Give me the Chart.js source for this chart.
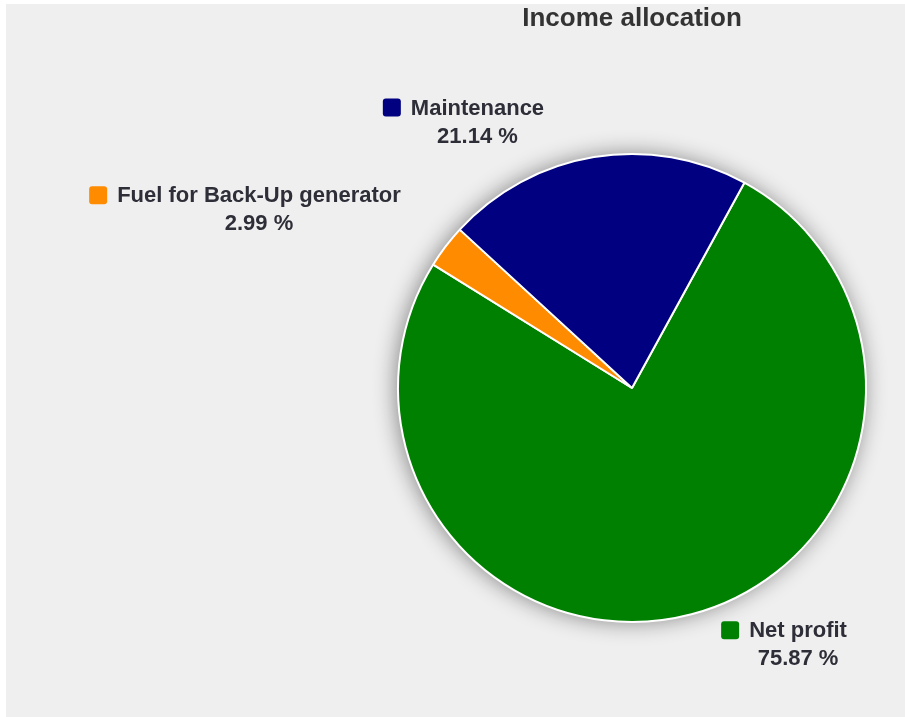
<!DOCTYPE html>
<html>
<head>
<meta charset="utf-8">
<script src="https://cdn.jsdelivr.net/npm/chart.js@4/dist/chart.umd.min.js"></script>
<style>
  html, body { margin: 0; padding: 0; background: #ffffff; }
  #wrap {
    position: absolute; left: 6px; top: 4px; width: 899px; height: 713px;
    background: #efefef;
  }
  #chart { position: absolute; left: -6px; top: -4px; }
</style>
</head>
<body>
<div id="wrap"><canvas id="chart" width="905" height="717"></canvas></div>
<script>
// ============================================
// DATA
// ============================================
const categories = ['Net profit', 'Fuel for Back-Up generator', 'Maintenance'];
const shares = [75.87, 2.99, 21.14];
const sliceColors = ['#008000', '#ff8c00', '#000080'];
const chartTitle = 'Income allocation';

// label placement: nudge from the point just outside each slice's middle
const labelNudge = [
    { dx: 22, dy: 1 },
    { dx: -21, dy: -19 },
    { dx: -45, dy: -6 }
];

const FONT = '"Liberation Sans", Arial, sans-serif';

// soft halo behind the pie
const pieShadow = {
    id: 'pieShadow',
    beforeDatasetsDraw(chart) {
        const arc = chart.getDatasetMeta(0).data[0];
        if (!arc) return;
        const ctx = chart.ctx;
        ctx.save();
        ctx.shadowColor = 'rgba(0, 0, 0, 0.45)';
        ctx.shadowBlur = 22;
        ctx.shadowOffsetX = -2;
        ctx.shadowOffsetY = 0;
        ctx.fillStyle = '#ffffff';
        ctx.beginPath();
        ctx.arc(arc.x, arc.y, arc.outerRadius, 0, Math.PI * 2);
        ctx.fill();
        ctx.restore();
    }
};

// title + outside labels with a colored square
const sliceLabels = {
    id: 'sliceLabels',
    afterDatasetsDraw(chart) {
        const ctx = chart.ctx;
        const meta = chart.getDatasetMeta(0);
        const first = meta.data[0];
        ctx.save();

        ctx.fillStyle = '#333333';
        ctx.font = 'bold 26px ' + FONT;
        ctx.textAlign = 'center';
        ctx.textBaseline = 'middle';
        ctx.fillText(chartTitle, first.x, 19);

        ctx.font = 'bold 22px ' + FONT;
        meta.data.forEach((arc, i) => {
            const mid = (arc.startAngle + arc.endAngle) / 2;
            const r = arc.outerRadius + 30;
            const ax = arc.x + Math.cos(mid) * r + labelNudge[i].dx;
            const ay = arc.y + Math.sin(mid) * r + labelNudge[i].dy;
            const name = categories[i];
            const pct = shares[i].toFixed(2) + ' %';
            const tw = ctx.measureText(name).width;
            const box = 18, gap = 10;
            const onRight = Math.cos(mid) >= 0;
            const left = onRight ? ax : ax - (box + gap + tw);
            const textX = left + box + gap;

            ctx.fillStyle = sliceColors[i];
            ctx.beginPath();
            ctx.roundRect(left, ay - 14 - box / 2, box, box, 3);
            ctx.fill();

            ctx.fillStyle = '#2e2e38';
            ctx.textAlign = 'left';
            ctx.fillText(name, textX, ay - 13);
            ctx.textAlign = 'center';
            ctx.fillText(pct, textX + tw / 2, ay + 15);
        });
        ctx.restore();
    }
};

new Chart(document.getElementById('chart'), {
    type: 'pie',
    data: {
        labels: categories,
        datasets: [{
            data: shares,
            backgroundColor: sliceColors,
            borderColor: '#ffffff',
            borderWidth: 2
        }]
    },
    options: {
        responsive: false,
        animation: false,
        rotation: 28.7,
        layout: {
            padding: { left: 397, right: 38, top: 153, bottom: 94 }
        },
        plugins: {
            legend: { display: false },
            tooltip: { enabled: false },
            title: { display: false }
        }
    },
    plugins: [pieShadow, sliceLabels]
});
</script>
</body>
</html>
